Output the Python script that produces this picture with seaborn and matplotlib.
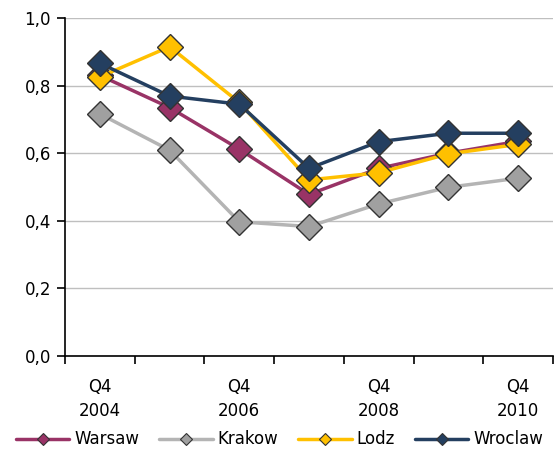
import pandas as pd
import numpy as np
import matplotlib.pyplot as plt
import matplotlib.ticker as mticker
from matplotlib.lines import Line2D
import seaborn as sns

# ── Data ──────────────────────────────────────────────────────────────────────
quarters = ["Q4\n2004", "Q4\n2005", "Q4\n2006", "Q4\n2007", "Q4\n2008", "Q4\n2009", "Q4\n2010"]
warsaw  = [0.83, 0.735, 0.612, 0.478, 0.555, 0.600, 0.635]
krakow  = [0.716, 0.609, 0.397, 0.383, 0.450, 0.499, 0.526]
lodz    = [0.826, 0.915, 0.75, 0.521, 0.542, 0.598, 0.626]
wroclaw = [0.866, 0.769, 0.745, 0.555, 0.634, 0.659, 0.659]

cities = ["Warsaw", "Krakow", "Lodz", "Wroclaw"]
line_colors   = {"Warsaw": "#993366", "Krakow": "#B4B4B4", "Lodz": "#FFC000", "Wroclaw": "#243F60"}
marker_colors = {"Warsaw": "#993366", "Krakow": "#A0A0A0", "Lodz": "#FFC000", "Wroclaw": "#243F60"}

df = pd.DataFrame({"x": np.arange(len(quarters)),
                   "Warsaw": warsaw, "Krakow": krakow, "Lodz": lodz, "Wroclaw": wroclaw})
long = df.melt(id_vars="x", var_name="city", value_name="value")

# ── Plot ──────────────────────────────────────────────────────────────────────
sns.set_theme(style="white")
plt.rcParams["font.family"] = ["DejaVu Sans"]

fig = plt.figure(figsize=(5.59, 4.5), dpi=100)
ax = fig.add_axes([0.1163, 0.209, 0.873, 0.751])

for city in cities:
    sub = long[long["city"] == city]
    sns.lineplot(data=sub, x="x", y="value", ax=ax, color=line_colors[city],
                 linewidth=2.5, marker="D", markersize=13,
                 markerfacecolor=marker_colors[city], markeredgecolor="#333333",
                 markeredgewidth=1.0, legend=False)

ax.set_xlim(-0.5, len(quarters) - 0.5)
ax.set_ylim(0, 1.0)
ax.set_xlabel("")
ax.set_ylabel("")

ax.yaxis.set_major_locator(mticker.MultipleLocator(0.2))
ax.yaxis.set_major_formatter(mticker.FuncFormatter(lambda v, _: f"{v:.1f}".replace(".", ",")))
ax.set_xticks([0, 2, 4, 6])
ax.set_xticklabels([quarters[i] for i in [0, 2, 4, 6]], linespacing=1.4)
ax.set_xticks(np.arange(-0.5, len(quarters), 1.0), minor=True)
ax.tick_params(axis="x", which="major", length=0, pad=16, labelsize=12, labelcolor="black")
ax.tick_params(axis="x", which="minor", length=6, width=1.2, color="black", direction="out", bottom=True)
ax.tick_params(axis="y", length=6, width=1.2, color="black", direction="out", left=True,
               labelsize=12, pad=4, labelcolor="black")

ax.grid(axis="y", color="#BFBFBF", linewidth=1.0)
ax.set_axisbelow(True)
for side in ["top", "right"]:
    ax.spines[side].set_visible(False)
for side in ["left", "bottom"]:
    ax.spines[side].set_color("black")
    ax.spines[side].set_linewidth(1.2)

handles = [Line2D([], [], color=line_colors[c], linewidth=2.5, marker="D", markersize=6,
                  markerfacecolor=marker_colors[c], markeredgecolor="#333333",
                  markeredgewidth=0.8) for c in cities]
fig.legend(handles, cities, loc="lower center", bbox_to_anchor=(0.5, -0.03), ncol=4,
           frameon=False, fontsize=12, handlelength=3.2, handletextpad=0.3,
           columnspacing=1.2, labelcolor="black")

plt.savefig("out.png", dpi=100)
plt.close()
